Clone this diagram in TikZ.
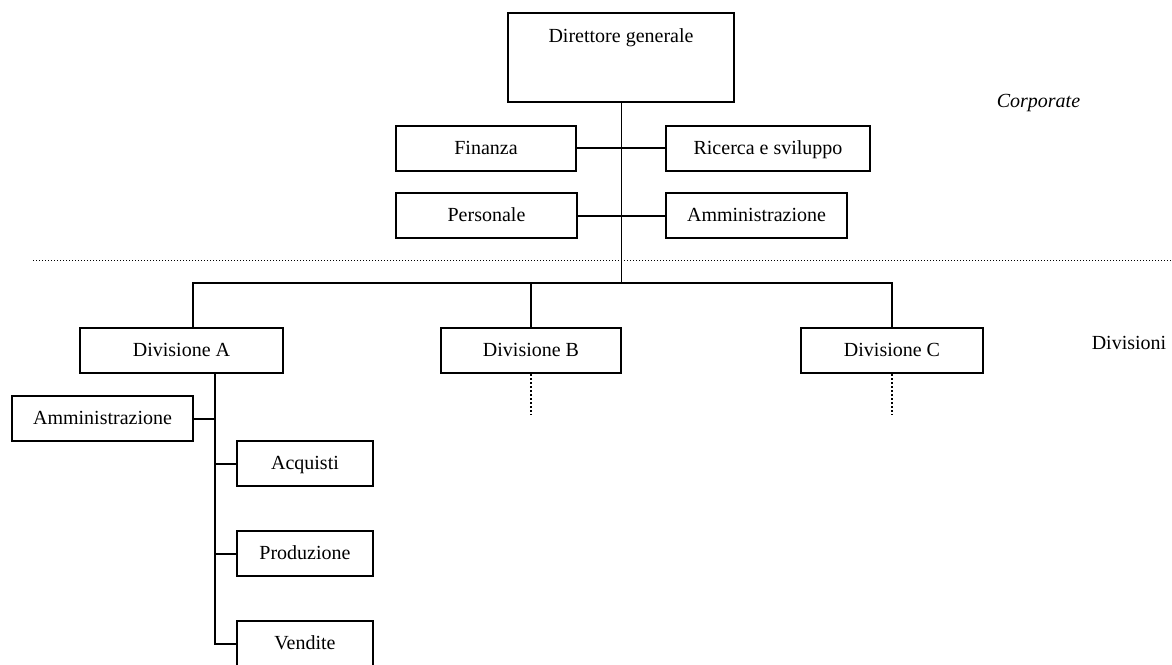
\documentclass[tikz,border=0pt]{standalone}
\usepackage{fontspec}
\setmainfont{Liberation Serif}
\usetikzlibrary{calc}
\begin{document}
\begin{tikzpicture}[x=1pt,y=-1pt,
  every node/.style={font=\fontsize{20}{24}\selectfont, inner sep=0pt},
  unit/.style={draw, line width=2pt, minimum height=45pt, align=center,
    text height=16pt, text depth=4pt},
  link/.style={line width=2pt},
  trunk/.style={line width=1pt},
  sep/.style={line width=1pt, dash pattern=on 1pt off 2pt},
  more/.style={line width=1.2pt, dash pattern=on 2pt off 2pt}]
\useasboundingbox (0,0) rectangle (1172,664);

% corporate level
\node[unit, minimum width=226pt, minimum height=89pt] (dg) at (621,57.5) {};
\node[anchor=base] (dgt) at (621,42) {Direttore generale};
\node[unit, minimum width=180pt] (fin) at (486,148) {Finanza};
\node[unit, minimum width=204pt] (rs)  at (768,148) {Ricerca e sviluppo};
\node[unit, minimum width=181pt] (pers) at (486.5,215.5) {Personale};
\node[unit, minimum width=181pt] (amm)  at (756.5,215.5) {Amministrazione};

\node[font=\fontsize{20}{24}\selectfont\itshape] (corp) at (1038.5,103) {Corporate};
\node (divs) at (1129,343) {Divisioni};

% boundary between corporate and divisions
\coordinate (sepL) at (33,260);
\coordinate (sepR) at (1172,260);
\draw[sep] (sepL) -- (sepR);

% divisions
\node[unit, minimum width=203pt] (dA) at (181.5,350.5) {Divisione A};
\node[unit, minimum width=180pt] (dB) at (531,350.5) {Divisione B};
\node[unit, minimum width=182pt] (dC) at (892,350.5) {Divisione C};

% functions of division A
\node[unit, minimum width=181pt] (aAmm) at (102.5,418.5) {Amministrazione};
\node[unit, minimum width=136pt] (acq)  at (305,463.5) {Acquisti};
\node[unit, minimum width=136pt] (prod) at (305,553.5) {Produzione};
\node[unit, minimum width=136pt] (vend) at (305,643.5) {Vendite};

% connectors
\coordinate (bar) at (621,283);
\coordinate (barA) at (193,283);
\coordinate (spineA) at (215,373);
\draw[trunk] (dg.south) -- (bar);
\draw[link] (fin.east) -- (rs.west);
\draw[link] (pers.east) -- (amm.west);
\draw[link] (barA |- dA.north) -- (barA) -- (bar -| dC.north) -- (dC.north);
\draw[link] (dB.north) -- (dB.north |- bar);

\draw[link] (spineA) -- (spineA |- vend.west) -- (vend.west);
\draw[link] (aAmm.east) -- (aAmm.east -| spineA);
\draw[link] (acq.west) -- (acq.west -| spineA);
\draw[link] (prod.west) -- (prod.west -| spineA);

\coordinate (tailB) at (531,415);
\coordinate (tailC) at (892,415);
\draw[more] (dB.south) -- (tailB);
\draw[more] (dC.south) -- (tailC);
\end{tikzpicture}
\end{document}
